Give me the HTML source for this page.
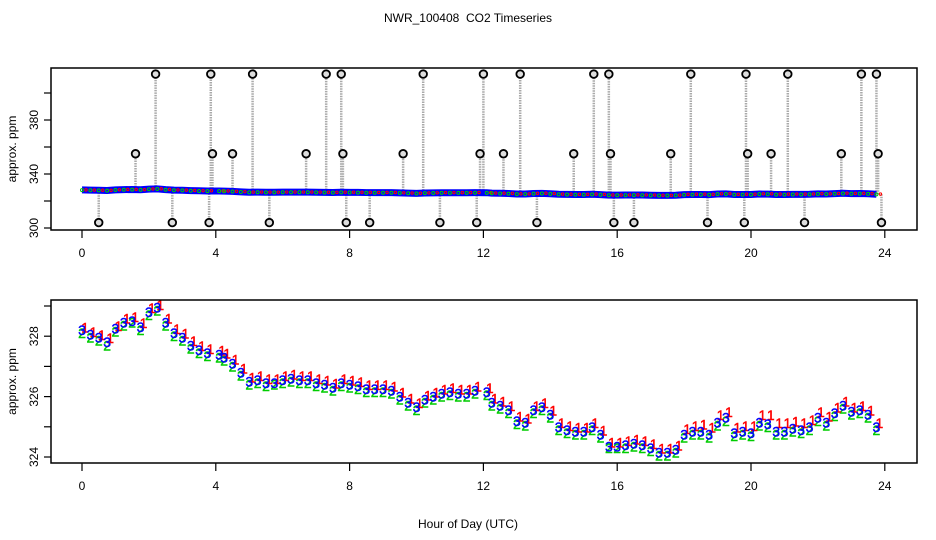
<!DOCTYPE html>
<html><head><meta charset="utf-8">
<style>
html,body{margin:0;padding:0;background:#fff;}
svg{display:block;font-family:"Liberation Sans",sans-serif;}
</style></head>
<body>
<svg id="chart" width="936" height="540" viewBox="0 0 936 540">
<rect width="936" height="540" fill="#fff"/>
<text x="468" y="22" text-anchor="middle" font-size="12">NWR_100408&#160; CO2 Timeseries</text>
<g id="topPanel"></g>
<g id="botPanel"></g>
<text x="468" y="528" text-anchor="middle" font-size="12">Hour of Day (UTC)</text>
</svg>
<script>
const hours = [0,0.25,0.5,0.75,1,1.25,1.5,1.75,2,2.25,2.5,2.75,3,3.25,3.5,3.75,4.1,4.25,4.5,4.75,5,5.25,5.5,5.75,6,6.25,6.5,6.75,7,7.25,7.5,7.75,8,8.25,8.5,8.75,9,9.25,9.5,9.75,10,10.25,10.5,10.75,11,11.25,11.5,11.75,12.1,12.25,12.5,12.75,13,13.25,13.5,13.75,14,14.25,14.5,14.75,15,15.25,15.5,15.75,16,16.25,16.5,16.75,17,17.25,17.5,17.75,18,18.25,18.5,18.75,19,19.25,19.5,19.75,20,20.25,20.5,20.75,21,21.25,21.5,21.75,22,22.25,22.5,22.75,23,23.25,23.5,23.75];
const series3 = [328.2,328.05,327.95,327.8,328.25,328.45,328.5,328.3,328.8,328.95,328.45,328.1,327.95,327.7,327.55,327.45,327.4,327.3,327.1,326.8,326.5,326.55,326.45,326.45,326.55,326.6,326.55,326.55,326.45,326.4,326.3,326.45,326.4,326.35,326.25,326.25,326.25,326.2,326.0,325.8,325.65,325.9,326.0,326.1,326.15,326.1,326.1,326.2,326.15,325.8,325.7,325.55,325.2,325.15,325.55,325.65,325.4,325.0,324.9,324.85,324.85,325.0,324.75,324.35,324.35,324.4,324.45,324.4,324.3,324.15,324.15,324.25,324.75,324.85,324.85,324.75,325.15,325.3,324.8,324.85,324.8,325.15,325.1,324.85,324.85,324.95,324.9,325.0,325.3,325.15,325.45,325.7,325.5,325.55,325.4,325.0];
const series2 = [328.1,327.95,327.85,327.7,328.15,328.35,328.45,328.2,328.7,328.85,328.35,328.0,327.85,327.6,327.45,327.35,327.3,327.2,327.0,326.7,326.4,326.45,326.35,326.4,326.45,326.5,326.45,326.45,326.35,326.3,326.2,326.35,326.3,326.25,326.15,326.15,326.15,326.1,325.9,325.7,325.55,325.8,325.9,326.0,326.05,326.0,326.0,326.1,326.05,325.7,325.6,325.45,325.1,325.05,325.45,325.55,325.3,324.9,324.8,324.75,324.75,324.9,324.65,324.3,324.3,324.3,324.35,324.3,324.2,324.05,324.05,324.15,324.65,324.75,324.75,324.65,325.05,325.2,324.7,324.75,324.7,325.05,325.0,324.75,324.75,324.85,324.8,324.9,325.2,325.05,325.35,325.6,325.4,325.45,325.3,324.9];
const series1 = [328.25,328.1,328.0,327.9,328.3,328.55,328.6,328.4,328.9,329.0,328.55,328.2,328.05,327.8,327.65,327.55,327.5,327.4,327.2,326.9,326.6,326.65,326.55,326.55,326.65,326.7,326.65,326.65,326.55,326.5,326.4,326.55,326.5,326.45,326.35,326.35,326.35,326.3,326.1,325.9,325.75,326.0,326.1,326.2,326.25,326.2,326.2,326.3,326.25,325.9,325.8,325.65,325.3,325.25,325.65,325.75,325.5,325.1,325.0,324.95,324.95,325.1,324.85,324.45,324.45,324.5,324.55,324.5,324.4,324.25,324.25,324.35,324.9,325.0,325.05,324.95,325.35,325.45,324.95,325.0,325.0,325.35,325.35,325.1,325.1,325.15,325.1,325.2,325.45,325.3,325.6,325.8,325.6,325.65,325.5,325.1];
const outlierHours = [0.5,2.7,3.8,5.6,7.9,8.6,10.7,11.8,13.6,15.9,16.5,18.7,19.8,21.6,23.9,1.6,3.9,4.5,6.7,7.8,9.6,11.9,12.6,14.7,15.8,17.6,19.9,20.6,22.7,23.8,2.2,3.85,5.1,7.3,7.75,10.2,12.0,13.1,15.3,15.75,18.2,19.85,21.1,23.3,23.75];
const outlierValues = [304,304,304,304,304,304,304,304,304,304,304,304,304,304,304,355,355,355,355,355,355,355,355,355,355,355,355,355,355,355,414,414,414,414,414,414,414,414,414,414,414,414,414,414,414];
const xTicks = [0,4,8,12,16,20,24];
const topYTicks = [300,320,340,360,380,400];
const topYLabels = [300,340,380];
const botYTicks = [324,325,326,327,328,329];
const botYLabels = [324,326,328];

const NS = "http://www.w3.org/2000/svg";
function mk(parent, tag, attrs, text){
  const e = document.createElementNS(NS, tag);
  for (const k in attrs) e.setAttribute(k, attrs[k]);
  if (text !== undefined) e.textContent = text;
  parent.appendChild(e);
  return e;
}
const xs = h => 82 + h * 33.45;
const topY = v => 228 - (v - 300) * 1.35;
const botY = v => 457 - (v - 324) * 30.2;

function axes(g, L, T, R, B, yScale, yt, yl, name){
  const box = mk(g, 'rect', {x:L, y:T, width:R-L, height:B-T, fill:'none', stroke:'#000', 'stroke-width':1.5});
  
  
  xTicks.forEach(t => {
    const l = mk(g, 'line', {x1:xs(t), x2:xs(t), y1:B, y2:B+8, stroke:'#000', 'stroke-width':1.2});
    
    
    const tx = mk(g, 'text', {x:xs(t), y:B+27, 'text-anchor':'middle', 'font-size':12}, String(t));
    
    
  });
  yt.forEach(v => {
    const l = mk(g, 'line', {x1:L-7, x2:L, y1:yScale(v), y2:yScale(v), stroke:'#000', 'stroke-width':1.2});
    
    
  });
  yl.forEach(v => {
    const tx = mk(g, 'text', {x:0, y:0, 'text-anchor':'middle', 'font-size':12, transform:`translate(38,${yScale(v)}) rotate(-90)`}, String(v));
    
    
  });
  const yt2 = mk(g, 'text', {x:0, y:0, 'text-anchor':'middle', 'font-size':12, transform:`translate(16,${(T+B)/2}) rotate(-90)`}, 'approx. ppm');
  
  
}

const topG = document.getElementById('topPanel');
const botG = document.getElementById('botPanel');

outlierHours.forEach((h, i) => {
  const x = xs(h);
  const base = topY(series3[Math.min(series3.length-1, Math.round(h*4))]);
  const l = mk(topG, 'line', {x1:x, x2:x, y1:base, y2:topY(outlierValues[i]), stroke:'#aaa', 'stroke-width':2.5, 'stroke-dasharray':'1.5 1'});
  
  
});
const pts = hours.map((h,i) => xs(h) + ',' + topY(series3[i])).join(' ');
const band = mk(topG, 'polyline', {points:pts, fill:'none', stroke:'#0000ff', 'stroke-width':7});


hours.forEach((h,i) => {
  const a = mk(topG, 'circle', {cx:xs(h), cy:topY(series2[i]), r:1.5, fill:'none', stroke:'#00cc00', 'stroke-width':1});
  
  
  const b = mk(topG, 'circle', {cx:xs(h)+4, cy:topY(series1[i]), r:1.2, fill:'none', stroke:'#ff0000', 'stroke-width':1});
  
  
});
outlierHours.forEach((h, i) => {
  const c = mk(topG, 'circle', {cx:xs(h), cy:topY(outlierValues[i]), r:3.8, fill:'#ddd', stroke:'#000', 'stroke-width':1.8});
  
  
});
axes(topG, 51, 68, 917, 230, topY, topYTicks, topYLabels, 'top');

const sets = [[series2,'2','#00cc00',0,5],[series1,'1','#ff0000',3,4],[series3,'3','#0000ff',0,5]];
sets.forEach(([arr, ch, col, dx, dy]) => {
  hours.forEach((h,i) => {
    const t = mk(botG, 'text', {x:xs(h)+dx, y:botY(arr[i])+dy, 'text-anchor':'middle', 'font-size':14, fill:col, stroke:col, 'stroke-width':0.4}, ch);
    
    
  });
});
axes(botG, 51, 300, 917, 463, botY, botYTicks, botYLabels, 'bottom');
</script>
</body></html>
